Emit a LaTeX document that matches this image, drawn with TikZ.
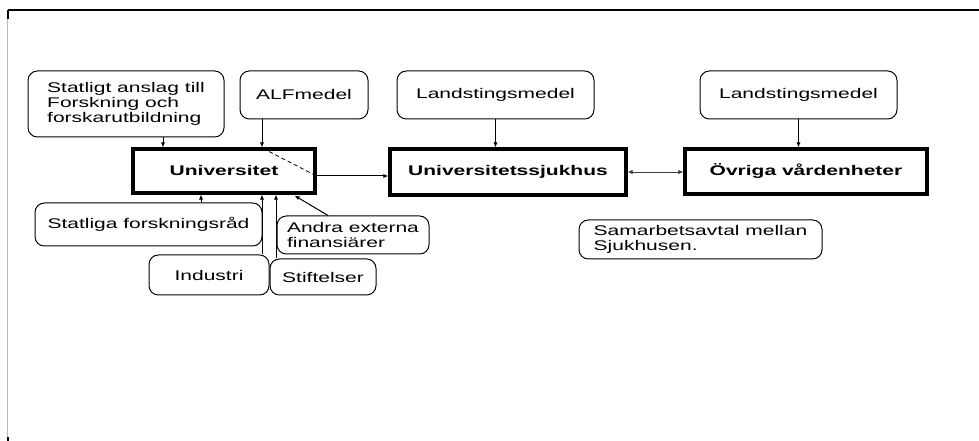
\documentclass[tikz,border=0pt]{standalone}
\usepackage{fontspec}
\setmainfont{Liberation Sans}[FakeStretch=1.5]
\usetikzlibrary{arrows.meta,calc}
\begin{document}
\begin{tikzpicture}[x=0.75pt,y=-0.75pt,
  font=\fontsize{10.5pt}{11.2pt}\selectfont,
  rbox/.style={draw,line width=0.75pt,rounded corners=7pt,inner sep=0pt,align=left},
  bbox/.style={draw,line width=2.4pt,inner sep=0pt,font=\fontsize{10.5pt}{11.2pt}\selectfont\bfseries},
  sz/.style 2 args={minimum width=#1*0.75pt,minimum height=#2*0.75pt},
  arr/.style={line width=0.75pt,-{Latex[length=3.8pt,width=3.3pt]}},
  darr/.style={line width=0.6pt,black!75,{Latex[length=3.8pt,width=3.3pt]}-{Latex[length=3.8pt,width=3.3pt]}},
  dline/.style={line width=0.6pt,dash pattern=on 3pt off 2.2pt},
  framegray/.style={draw=gray!55,line width=0.9pt},
  frameblack/.style={draw=black,line width=1.4pt}
]
\useasboundingbox (0,0) rectangle (979,441);
% frame
\draw[framegray] (7.5,10) -- (7.5,441);
\draw[frameblack] (7.5,10) -- (979,10);
\draw[frameblack] (8,10) -- (8,19);
\draw[frameblack] (8,437) -- (8,441);

% funding boxes (top)
\node[rbox,sz={196}{66}] (stat) at (126,104) {Statligt anslag till\\Forskning och\\forskarutbildning};
\node[rbox,sz={128}{48}] (alf) at (304,95) {ALFmedel};
\node[rbox,sz={197}{48}] (lan1) at (495.5,95) {Landstingsmedel};
\node[rbox,sz={197}{48}] (lan2) at (798.5,95) {Landstingsmedel};

% main boxes
\node[bbox,sz={182}{44}] (univ) at (224,171) {Universitet};
\node[bbox,sz={236}{46}] (usj) at (508,172) {Universitetssjukhus};
\node[bbox,sz={242}{45}] (ovr) at (806,171.5) {Övriga vårdenheter};

% funding boxes (bottom)
\node[rbox,sz={227}{43}] (sfr) at (148.5,224.5) {Statliga forskningsråd};
\node[rbox,sz={152}{38}] (andra) at (353,235) {Andra externa\\finansiärer};
\node[rbox,sz={120}{40}] (ind) at (209,275) {Industri};
\node[rbox,sz={106}{36}] (stf) at (323,277) {Stiftelser};
\node[rbox,sz={243}{39}] (sam) at (700.5,239.5) {Samarbetsavtal mellan\\Sjukhusen.};

% connectors
\coordinate (a1) at ($(stat.south)+(37,0)$);
\draw[arr] (a1) -- (a1 |- univ.north);
\coordinate (a2) at ($(alf.south)+(-42,0)$);
\draw[arr] (a2) -- (a2 |- univ.north);
\draw[arr] (lan1.south) -- (lan1.south |- usj.north);
\draw[arr] (lan2.south) -- (lan2.south |- ovr.north);
\coordinate (c1) at ($(univ.east)+(0,5)$);
\draw[arr] (c1) -- (c1 -| usj.west);
\draw[darr] (usj.east) -- (usj.east -| ovr.west);
\coordinate (b1) at ($(sfr.north)+(52.5,0)$);
\draw[arr] (b1) -- (b1 |- univ.south);
\coordinate (b2) at ($(ind.north)+(53,0)$);
\draw[arr] (b2) -- (b2 |- univ.south);
\coordinate (b3) at ($(stf.north)+(-47,0)$);
\draw[arr] (b3) -- (b3 |- univ.south);
\coordinate (b4) at ($(andra.north)+(-25,0)$);
\coordinate (u4) at ($(univ.south east)+(-22,1)$);
\draw[arr] (b4) -- (u4);
\coordinate (d1) at ($(univ.north)+(39,1)$);
\coordinate (d2) at ($(univ.east)+(-2,4)$);
\draw[dline] (d1) -- (d2);
\end{tikzpicture}
\end{document}
